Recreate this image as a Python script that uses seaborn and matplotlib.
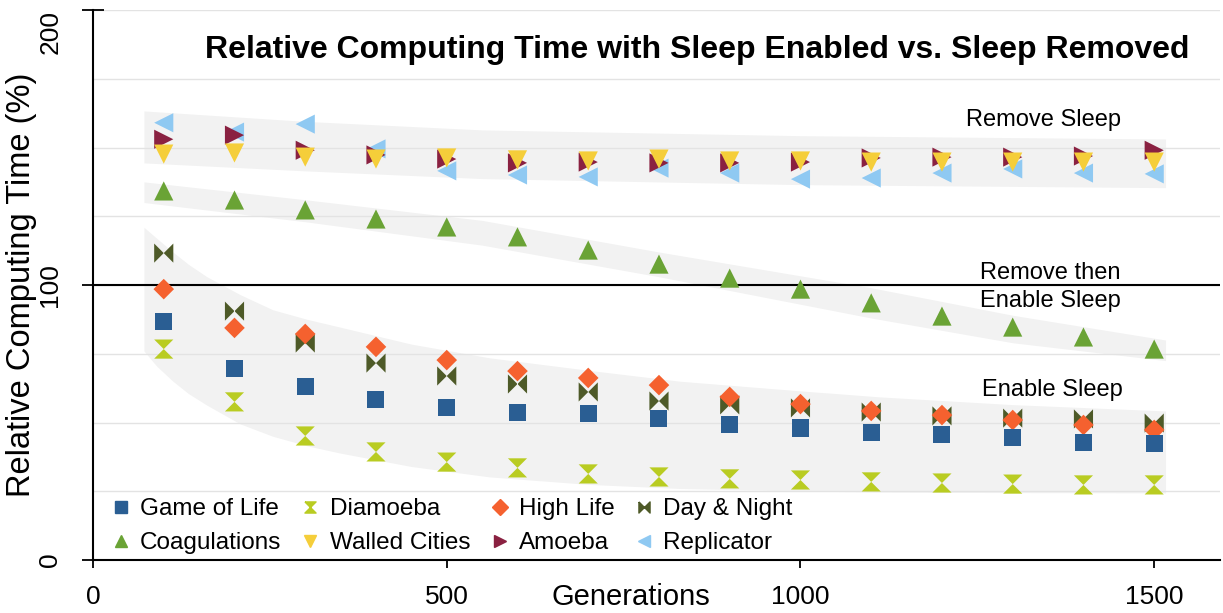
import matplotlib.pyplot as plt
import seaborn as sns
from matplotlib.lines import Line2D
from matplotlib.ticker import MultipleLocator

generations = [100, 200, 300, 400, 500, 600, 700, 800, 900, 1000, 1100, 1200, 1300, 1400, 1500]

game_of_life = [86.9, 69.8, 63.0, 58.5, 55.3, 53.8, 53.1, 51.3, 49.1, 48.0, 46.2, 45.8, 44.4, 42.9, 42.2]
diamoeba = [76.7, 57.5, 45.1, 39.3, 35.6, 33.5, 31.3, 30.2, 29.5, 29.1, 28.4, 28.0, 27.6, 27.3, 27.3]
high_life = [98.5, 84.4, 82.2, 77.5, 72.7, 68.7, 66.2, 63.6, 59.3, 56.7, 54.2, 52.7, 50.9, 49.1, 47.3]
day_and_night = [111.6, 90.5, 78.9, 71.6, 66.9, 64.0, 61.1, 57.8, 56.4, 55.3, 53.8, 52.4, 51.6, 51.3, 49.8]
coagulations = [134.2, 130.9, 127.3, 124.0, 121.1, 117.5, 112.7, 107.6, 102.5, 98.5, 93.5, 88.7, 84.7, 81.1, 76.7]
walled_cities = [147.6, 148.0, 146.5, 145.8, 146.2, 145.5, 145.1, 145.8, 145.1, 145.1, 144.7, 144.7, 144.7, 144.7, 144.7]
amoeba = [153.0, 154.5, 149.0, 147.3, 145.8, 144.4, 144.7, 144.4, 144.4, 144.7, 146.2, 146.5, 146.5, 146.9, 149.0]
replicator = [159.0, 155.6, 158.5, 149.5, 141.5, 140.0, 139.3, 142.5, 140.7, 138.5, 138.9, 140.7, 142.2, 140.7, 140.4]

# shaded envelopes
remove_band_x = [72, 300, 550, 1000, 1516]
remove_band_hi = [163.3, 159.5, 156.4, 154.3, 153.1]
remove_band_lo = [144.4, 141.5, 138.7, 136.5, 135.4]

coag_band_x = [72, 300, 550, 800, 1100, 1300, 1516]
coag_band_hi = [137.5, 131.0, 123.5, 112.0, 99.0, 89.0, 80.0]
coag_band_lo = [130.0, 123.0, 114.5, 103.0, 88.0, 79.0, 72.5]

enable_band_x = [72, 90, 113, 135, 161, 208, 254, 303, 349, 450, 561, 700, 830, 1000, 1113, 1300, 1516]
enable_band_hi = [121.0, 117.0, 112.0, 107.5, 103.0, 96.5, 91.0, 87.5, 84.7, 78.5, 73.5, 69.0, 65.0, 61.5, 59.3, 56.5, 54.2]
enable_band_lo = [76.0, 70.5, 65.0, 60.5, 56.3, 49.5, 45.0, 41.5, 38.9, 34.0, 30.2, 27.5, 26.0, 25.1, 24.7, 24.5, 24.4]

x_ticks = [0, 500, 1000, 1500]
y_ticks = [0, 100, 200]

HOURGLASS = [(-1, 1), (1, 1), (-1, -1), (1, -1), (-1, 1)]
BOWTIE = [(-1, 1), (-1, -1), (1, 1), (1, -1), (-1, 1)]


def main() -> None:
    """Draws the relative computing time chart."""
    sns.set_theme(style='white')
    plt.rcParams['font.family'] = ['Liberation Sans', 'DejaVu Sans']
    plt.rcParams['text.color'] = 'black'
    plt.rcParams['axes.labelcolor'] = 'black'
    plt.rcParams['xtick.color'] = 'black'
    plt.rcParams['ytick.color'] = 'black'

    series = [
        ('Game of Life', game_of_life, 's', '#2A5E93', 150),
        ('Diamoeba', diamoeba, HOURGLASS, '#B9CC22', 190),
        ('High Life', high_life, 'D', '#F5612F', 110),
        ('Day & Night', day_and_night, BOWTIE, '#4E5A28', 190),
        ('Coagulations', coagulations, '^', '#6AA335', 190),
        ('Walled Cities', walled_cities, 'v', '#F5CE3A', 190),
        ('Amoeba', amoeba, '>', '#8A2141', 190),
        ('Replicator', replicator, '<', '#8FC9F2', 190),
    ]

    fig = plt.figure(figsize=(12.23, 6.13), dpi=100)
    ax = fig.add_axes([93 / 1223, 53 / 613, 1127 / 1223, 550 / 613])

    band_color = '#F2F2F2'
    ax.fill_between(remove_band_x, remove_band_lo, remove_band_hi, color=band_color, lw=0, zorder=0.2)
    ax.fill_between(coag_band_x, coag_band_lo, coag_band_hi, color=band_color, lw=0, zorder=0.2)
    ax.fill_between(enable_band_x, enable_band_lo, enable_band_hi, color=band_color, lw=0, zorder=0.2)

    ax.axhline(100, color='black', lw=1.5, zorder=2)

    # later series sit underneath earlier ones in the original
    for i, (name, values, marker, color, size) in enumerate(reversed(series)):
        sns.scatterplot(ax=ax, x=generations, y=values, marker=marker, color=color,
                        s=size, edgecolor='none', linewidth=0, zorder=3 + i)

    ax.set_xlim(0, 1593)
    ax.set_ylim(0, 200)
    ax.set_xticks(x_ticks)
    ax.set_yticks(y_ticks)
    ax.yaxis.set_minor_locator(MultipleLocator(25))
    ax.set_axisbelow(True)
    ax.grid(axis='y', which='both', color='#E3E3E3', lw=1)
    ax.grid(axis='x', visible=False)

    for side in ['top', 'right']:
        ax.spines[side].set_visible(False)
    for side in ['left', 'bottom']:
        ax.spines[side].set_color('black')
        ax.spines[side].set_linewidth(1.5)

    ax.tick_params(axis='x', which='major', direction='out', length=6, width=1.3,
                   labelsize=19, pad=12, bottom=True)
    ax.tick_params(axis='y', which='major', direction='inout', length=16, width=1.3,
                   labelsize=19, pad=14, left=True, labelrotation=90)
    ax.tick_params(axis='y', which='minor', length=0)
    for label in ax.get_yticklabels():
        label.set_va('center')
    ax.get_yticklabels()[-1].set_va('top')

    ax.set_xlabel('Generations', fontsize=21)
    ax.xaxis.set_label_coords(0.477, -0.042)
    ax.set_ylabel('Relative Computing Time (%)', fontsize=23.5)
    ax.yaxis.set_label_coords(-0.05, 0.5)

    ax.text(0.536, 0.927, 'Relative Computing Time with Sleep Enabled vs. Sleep Removed',
            transform=ax.transAxes, ha='center', va='center', fontsize=23, fontweight='bold')
    ax.text(1343, 160, 'Remove Sleep', ha='center', va='center', fontsize=17)
    ax.text(1353, 99.3, 'Remove then\nEnable Sleep', ha='center', va='center', fontsize=17,
            linespacing=1.35)
    ax.text(1356, 61.8, 'Enable Sleep', ha='center', va='center', fontsize=17)

    # legend is filled row by row in the original, matplotlib fills columns
    handles = {
        name: Line2D([], [], marker=marker, color=color, linestyle='', markersize=8)
        for name, values, marker, color, size in series
    }
    order = ['Game of Life', 'Coagulations', 'Diamoeba', 'Walled Cities',
             'High Life', 'Amoeba', 'Day & Night', 'Replicator']
    ax.legend([handles[n] for n in order], order, ncol=4, frameon=False,
              loc='lower left', bbox_to_anchor=(0.005, -0.012), borderaxespad=0.1,
              fontsize=17.5, handlelength=0.8, handletextpad=0.4,
              columnspacing=0.8, labelspacing=0.5)

    fig.savefig('out.png', dpi=100)


if __name__ == '__main__':
    main()
